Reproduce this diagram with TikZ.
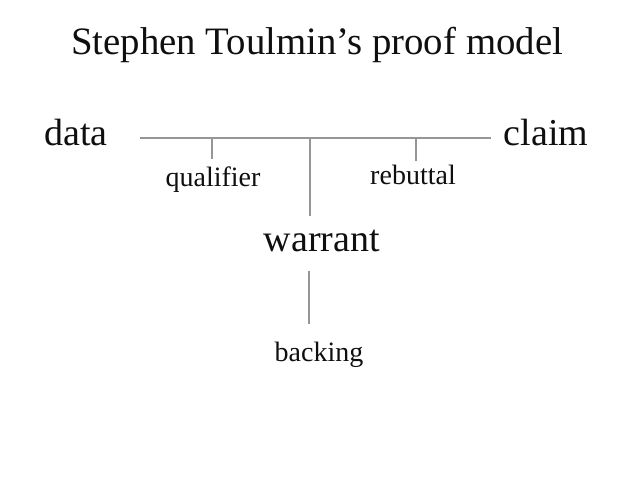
\documentclass[tikz,border=0pt]{standalone}
\usepackage{fontspec}
\setmainfont{Liberation Serif}
\definecolor{linegray}{RGB}{150,150,150}
\definecolor{txt}{RGB}{15,15,15}
\begin{document}
\begin{tikzpicture}[x=1pt,y=-1pt,
  big/.style={anchor=base,inner sep=0pt,text=txt,font=\fontsize{38}{40}\selectfont},
  small/.style={anchor=base,inner sep=0pt,text=txt,font=\fontsize{28}{30}\selectfont},
  conn/.style={draw=linegray,line width=1.4pt}]
\useasboundingbox (0,0) rectangle (640,478);
\node[big,font=\fontsize{38.8}{40}\selectfont] (title) at (317,55) {Stephen Toulmin’s proof model};
\node[big] (data) at (76,146) {data};
\node[big] (claim) at (546,146) {claim};
\node[small] (qual) at (213,187) {qualifier};
\node[small] (reb) at (413,185) {rebuttal};
\node[big] (warrant) at (322,252) {warrant};
\node[small] (backing) at (319,362) {backing};
\coordinate (L) at (140,138);
\coordinate (R) at (491,138);
\coordinate (J) at (310,138);
\coordinate (Q) at (212,138);
\coordinate (B) at (416,138);
\draw[conn] (L) -- (R);
\draw[conn] (Q) -- (Q |- 0,159);
\draw[conn] (B) -- (B |- 0,161);
\draw[conn] (J) -- (J |- 0,216);
\draw[conn] (309,271) coordinate (W1) -- (309,324) coordinate (W2);
\end{tikzpicture}
\end{document}
